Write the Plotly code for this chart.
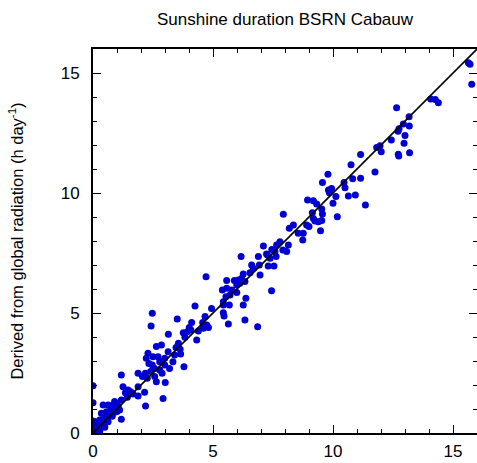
import plotly.graph_objects as go

# Observed sunshine duration (h/day) vs. derived from global radiation (h/day)
obs = [
    15.64, 15.71, 15.78, 14.07, 14.26, 14.39, 12.65, 13.17, 13.18, 12.93, 12.75, 12.71,
    13.00, 12.96, 12.43, 11.96, 11.82, 12.01, 12.72, 12.74, 13.19, 11.15, 10.75,
    9.79, 9.56, 10.46, 10.82, 11.15, 9.94, 9.81, 9.85, 10.12, 10.50, 10.64, 10.93,
    11.35, 10.00, 8.94, 9.18, 9.32, 9.53, 9.56, 9.14, 10.18, 7.93, 9.18, 9.25, 9.39,
    9.53, 8.90, 9.00, 9.48, 8.35, 8.18, 8.76, 8.55, 8.74, 7.79, 7.65, 7.45, 7.58,
    8.14, 7.91, 8.07, 7.10, 7.27, 7.63, 7.38, 11.75,
    6.17, 6.89, 7.23, 6.93, 6.61, 6.68, 7.30, 7.54, 6.96, 6.54, 6.26, 4.71, 5.89,
    6.06, 6.19, 6.12, 5.99, 6.33, 5.57, 5.57, 5.39, 5.78, 5.99, 5.71, 5.54, 5.43,
    5.68, 5.43, 6.26, 6.37, 7.44, 4.25, 4.94, 5.43, 5.46, 4.67, 3.51, 4.11, 4.57,
    4.74, 4.81, 4.60, 5.64, 6.33, 6.86, 4.01, 3.76, 3.93, 4.08, 4.39, 3.83, 4.32,
    3.56, 3.46, 3.63, 3.65,
    2.85, 2.64, 3.13, 2.29, 2.50, 2.71, 2.22, 2.33, 2.47, 2.78, 2.99, 3.40, 3.33,
    3.79, 2.57, 2.78, 2.99, 3.19, 2.88, 2.40, 2.18, 1.18, 1.88, 2.06, 2.26, 2.57,
    2.64, 3.01, 1.88, 1.25, 1.46, 1.35, 1.57, 1.67, 2.15, 1.88, 2.92, 1.43, 1.18,
    0.90, 0.63, 0.83, 0.42, 1.01, 2.19, 0.00, 0.00, 1.11, 0.76, 0.56, 0.35, 0.88,
    1.18, 0.65, 0.49, 0.28, 0.10, 0.21, 0.00, 0.07, 0.00, 0.18, 0.35, 0.00, 0.04,
    0.28, 0.49, 0.42, 0.14, 0.04, 0.63,
    2.47, 2.42, 3.14,
    0.05, 0.10, 0.20, 0.30, 0.15, 0.00, 0.25, 0.50, 0.40, 0.60, 0.70, 0.80, 0.90,
    1.00, 1.05,
]
derived = [
    15.43, 15.36, 14.53, 13.92, 13.90, 13.76, 13.55, 13.18, 12.79, 12.87, 12.68, 12.57,
    12.40, 12.07, 12.21, 11.97, 11.90, 11.72, 11.61, 11.54, 11.68, 11.60, 11.18,
    10.78, 10.44, 10.44, 10.59, 10.61, 10.19, 10.13, 10.01, 9.85, 10.22, 9.88, 9.92,
    9.50, 9.57, 9.71, 9.68, 9.54, 9.33, 9.13, 9.18, 9.01, 9.11, 8.94, 8.83, 8.80,
    8.85, 8.67, 8.60, 8.43, 8.67, 8.53, 8.32, 8.32, 8.04, 7.97, 7.83, 7.65, 7.56,
    7.83, 7.63, 7.56, 7.79, 7.42, 7.35, 7.28, 10.88,
    7.35, 7.35, 7.46, 7.00, 7.00, 6.86, 6.96, 6.96, 6.58, 6.68, 6.62, 6.51, 6.35,
    6.38, 6.44, 6.24, 6.17, 6.31, 6.35, 6.03, 5.96, 5.96, 5.85, 5.75, 5.68, 5.47,
    5.33, 5.33, 5.33, 5.61, 5.93, 5.29, 5.19, 5.01, 4.87, 4.85, 4.75, 4.60, 4.60,
    4.50, 4.40, 4.36, 4.54, 4.71, 4.43, 4.40, 4.18, 4.22, 4.29, 4.25, 3.99, 3.88,
    3.74, 3.56, 3.49, 3.29,
    3.67, 3.60, 3.39, 3.32, 3.18, 3.18, 3.11, 2.90, 2.83, 2.97, 3.11, 3.25, 2.97,
    2.76, 2.69, 2.63, 2.83, 2.69, 2.49, 2.56, 2.49, 2.42, 2.49, 2.35, 2.28, 2.35,
    2.14, 2.10, 1.93, 1.93, 1.79, 1.68, 1.72, 1.63, 1.70, 1.54, 1.44, 1.49, 1.38,
    1.31, 1.17, 1.17, 1.17, 1.17, 1.13, 1.26, 1.97, 0.96, 0.99, 0.89, 0.82, 0.85,
    0.57, 0.71, 0.61, 0.54, 0.47, 0.40, 0.38, 0.24, 0.15, 0.12, 0.24, 0.06, 0.00,
    0.06, 0.24, 0.40, 0.29, 0.06, 0.47,
    4.99, 4.46, 4.11,
    0.10, 0.05, 0.20, 0.30, 0.35, 0.50, 0.15, 0.50, 0.55, 0.55, 0.80, 0.70, 1.00,
    0.90, 1.10,
]
line_ends = [0, 16]
ticks_major = [0, 5, 10, 15]

FONT = "Liberation Sans, Arial, Helvetica, sans-serif"

W, H = 477, 463
ML, MT, MB = 93, 49, 30

fig = go.Figure()
fig.add_trace(go.Scatter(
    x=obs, y=derived, mode="markers",
    marker=dict(color="#0000d2", size=7, line=dict(width=0)),
    showlegend=False, hoverinfo="skip",
))
fig.add_trace(go.Scatter(
    x=line_ends, y=line_ends, mode="lines",
    line=dict(color="black", width=1.6),
    showlegend=False, hoverinfo="skip",
))
# invisible trace on the top/right axes that carry the mirrored frame and ticks
fig.add_trace(go.Scatter(x=[0], y=[0], xaxis="x2", yaxis="y2", mode="markers",
                         marker=dict(opacity=0), showlegend=False, hoverinfo="skip"))

tickfont = dict(family=FONT, size=17, color="black")
minor = dict(ticks="inside", dtick=1, ticklen=4, tickwidth=1, tickcolor="black", showgrid=False)
common = dict(range=[0, 16], tickvals=ticks_major, ticks="inside", ticklen=8, tickwidth=1,
              tickcolor="black", showgrid=False, zeroline=False, minor=minor)

fig.update_layout(
    width=W, height=H,
    margin=dict(l=ML, r=0, t=MT, b=MB),
    paper_bgcolor="white", plot_bgcolor="white",
    title=dict(text="Sunshine duration BSRN Cabauw", x=(ML + 192) / W, xanchor="center",
               y=1 - 19 / H, yanchor="middle",
               font=dict(family=FONT, size=17, color="black")),
    xaxis=dict(**common, showline=True, linecolor="black", linewidth=2, mirror=False,
               tickfont=tickfont, ticklabelstandoff=2),
    yaxis=dict(**common, showline=True, linecolor="black", linewidth=2, mirror=False,
               tickfont=tickfont, ticklabelstandoff=8,
               title=dict(text="Derived from global radiation (h day<sup>-1</sup>)",
                          font=dict(family=FONT, size=16.5, color="black"), standoff=33)),
    xaxis2=dict(**common, overlaying="x", side="top", anchor="y2", showline=True,
                linecolor="black", linewidth=2, showticklabels=False),
    yaxis2=dict(**common, overlaying="y", side="right", anchor="x2", showline=False,
                showticklabels=False),
)

fig.write_html("out.html",
               config={"displayModeBar": False, "staticPlot": True},
               post_script="document.body.style.margin='0';document.body.style.overflow='hidden';")
